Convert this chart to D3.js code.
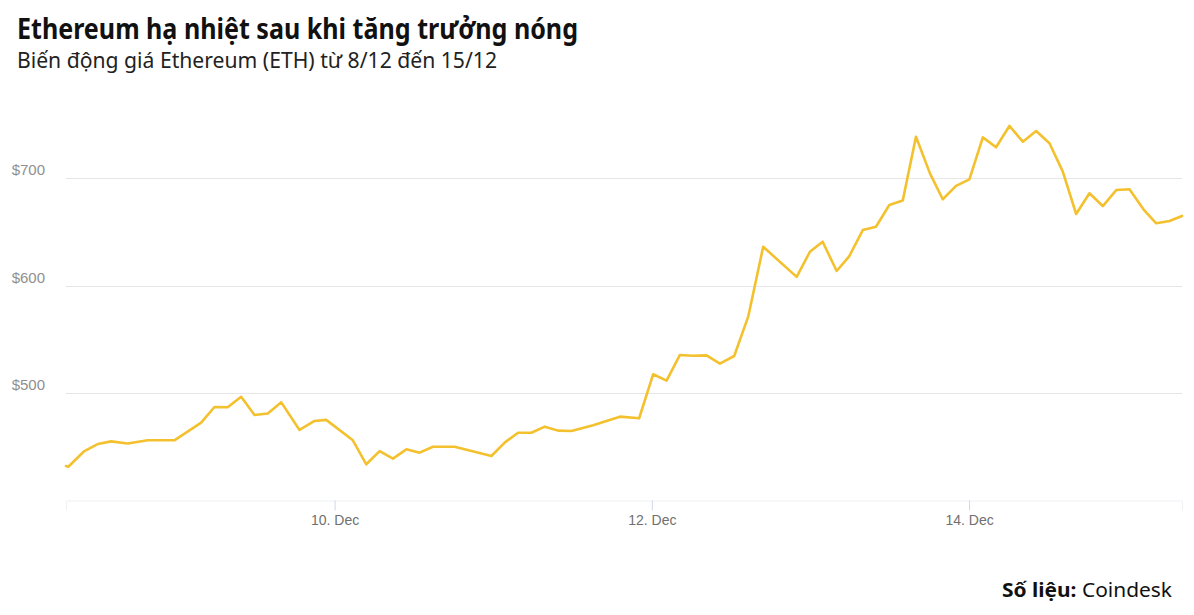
<!DOCTYPE html>
<html>
<head>
<meta charset="utf-8">
<script src="https://cdn.jsdelivr.net/npm/d3@7"></script>
<style>
  html, body { margin: 0; padding: 0; background: #fff; }
  svg { display: block; }
</style>
</head>
<body>
<svg id="chart" width="1194" height="615"></svg>
<script>
// ---- data ----
const times = [
  "2017-12-08T07:22","2017-12-08T07:43","2017-12-08T10:09","2017-12-08T12:10","2017-12-08T14:11",
  "2017-12-08T16:42","2017-12-08T19:44","2017-12-08T23:46","2017-12-09T03:49","2017-12-09T05:50",
  "2017-12-09T07:50","2017-12-09T09:52","2017-12-09T11:53","2017-12-09T13:54","2017-12-09T15:56",
  "2017-12-09T18:42","2017-12-09T20:58","2017-12-09T22:44","2017-12-10T02:46","2017-12-10T04:48",
  "2017-12-10T06:49","2017-12-10T08:50","2017-12-10T10:52","2017-12-10T12:52","2017-12-10T14:53",
  "2017-12-10T18:10","2017-12-10T23:44","2017-12-11T01:44","2017-12-11T03:46","2017-12-11T05:47",
  "2017-12-11T07:48","2017-12-11T09:49","2017-12-11T11:50","2017-12-11T15:07","2017-12-11T19:10",
  "2017-12-11T22:05","2017-12-12T00:12","2017-12-12T02:14","2017-12-12T04:14","2017-12-12T06:15",
  "2017-12-12T08:17","2017-12-12T10:18","2017-12-12T12:28","2017-12-12T14:35","2017-12-12T16:51",
  "2017-12-12T21:55","2017-12-12T23:55","2017-12-13T01:51","2017-12-13T03:58","2017-12-13T05:53",
  "2017-12-13T07:55","2017-12-13T09:55","2017-12-13T11:56","2017-12-13T13:58","2017-12-13T15:58",
  "2017-12-13T18:05","2017-12-13T20:01","2017-12-13T22:02","2017-12-14T00:03","2017-12-14T02:05",
  "2017-12-14T04:05","2017-12-14T06:06","2017-12-14T08:08","2017-12-14T10:09","2017-12-14T12:10",
  "2017-12-14T14:11","2017-12-14T16:12","2017-12-14T18:13","2017-12-14T20:14","2017-12-14T22:16",
  "2017-12-15T00:16","2017-12-15T02:23","2017-12-15T04:19","2017-12-15T06:20","2017-12-15T08:13"
];
const prices = [
  432, 431.4, 446, 452.5, 455,
  453, 456, 456, 472.4, 487,
  486.7, 496.5, 479.5, 481, 491.3,
  465.6, 474, 475, 456, 433.7,
  446, 439, 447.6, 444.5, 450,
  450, 441.4, 453.8, 463, 463,
  468.7, 465, 464.7, 470, 478,
  476.5, 517.4, 511.5, 535.3, 534.7,
  535, 527.3, 534.4, 571, 636,
  608, 631.4, 640.7, 613.5, 627.4,
  651.6, 654.7, 674.9, 679, 738.4,
  704.3, 680.2, 692.6, 698.8, 737.8,
  728.6, 748.4, 733.8, 743.7, 732.3,
  705.9, 666.5, 685.8, 673.9, 688.8,
  689.5, 670.9, 657.9, 660, 664.7
];
const yTickValues = [500, 600, 700];
const yTickLabels = ["$500", "$600", "$700"];
const xTickDates = ["2017-12-10T00:00", "2017-12-12T00:00", "2017-12-14T00:00"];
const titleText = "Ethereum hạ nhiệt sau khi tăng trưởng nóng";
const subtitleText = "Biến động giá Ethereum (ETH) từ 8/12 đến 15/12";
const sourceBold = "Số liệu:";
const sourceText = " Coindesk";

// ---- setup ----
const parse = d3.timeParse("%Y-%m-%dT%H:%M");
const data = times.map((t, i) => ({ date: parse(t), value: prices[i] }));

const svg = d3.select("#chart");
const plotLeft = 66, plotRight = 1182, plotBottom = 500.5;

const x = d3.scaleTime()
  .domain(d3.extent(data, d => d.date))
  .range([plotLeft, plotRight]);
const y = d3.scaleLinear()
  .domain([400, 700])
  .range([plotBottom, 178]);

// gridlines
svg.append("g")
  .selectAll("line")
  .data(yTickValues)
  .join("line")
  .attr("x1", plotLeft).attr("x2", plotRight)
  .attr("y1", d => Math.round(y(d)) + 0.5).attr("y2", d => Math.round(y(d)) + 0.5)
  .attr("stroke", "#e6e6e6").attr("stroke-width", 1);

// y labels
svg.append("g")
  .selectAll("text")
  .data(yTickValues)
  .join("text")
  .attr("x", 45)
  .attr("y", d => y(d) - 8)
  .attr("dy", "0.35em")
  .attr("text-anchor", "end")
  .attr("font-family", "Liberation Sans, Arial, sans-serif")
  .attr("font-size", 15)
  .attr("fill", "#8f8f8f")
  .text((d, i) => yTickLabels[i]);

// x axis
const xAxis = d3.axisBottom(x)
  .tickValues(xTickDates.map(parse))
  .tickFormat(d3.timeFormat("%-d. %b"))
  .tickSize(10)
  .tickPadding(5);
const gx = svg.append("g")
  .attr("transform", `translate(0,${plotBottom})`)
  .call(xAxis);
gx.select(".domain").attr("stroke", "#eef0f4").attr("stroke-width", 1);
gx.selectAll(".tick line").attr("stroke", "#ccd6eb");
gx.selectAll(".tick text")
  .attr("font-family", "Liberation Sans, Arial, sans-serif")
  .attr("font-size", 14)
  .attr("fill", "#707070");

// line
const line = d3.line()
  .x(d => x(d.date))
  .y(d => y(d.value));
svg.append("path")
  .datum(data)
  .attr("d", line)
  .attr("fill", "none")
  .attr("stroke", "#f4c12e")
  .attr("stroke-width", 2.6)
  .attr("stroke-linejoin", "round")
  .attr("stroke-linecap", "round");

// title & subtitle
svg.append("text")
  .attr("x", 17).attr("y", 38.5)
  .attr("font-family", "Noto Sans, sans-serif")
  .attr("font-weight", 700)
  .attr("font-size", 28)
  .attr("fill", "#111111")
  .attr("textLength", 561)
  .attr("lengthAdjust", "spacingAndGlyphs")
  .text(titleText);

svg.append("text")
  .attr("x", 17).attr("y", 67.5)
  .attr("font-family", "Noto Sans, sans-serif")
  .attr("font-weight", 400)
  .attr("font-size", 22)
  .attr("fill", "#222222")
  .attr("textLength", 480)
  .attr("lengthAdjust", "spacingAndGlyphs")
  .text(subtitleText);

// source
const src = svg.append("text")
  .attr("x", 1172).attr("y", 596.5)
  .attr("text-anchor", "end")
  .attr("font-family", "Noto Sans, sans-serif")
  .attr("font-size", 20)
  .attr("fill", "#111111")
  .attr("textLength", 170)
  .attr("lengthAdjust", "spacingAndGlyphs");
src.append("tspan").attr("font-weight", 700).text(sourceBold);
src.append("tspan").attr("font-weight", 400).text(sourceText);
</script>
</body>
</html>
